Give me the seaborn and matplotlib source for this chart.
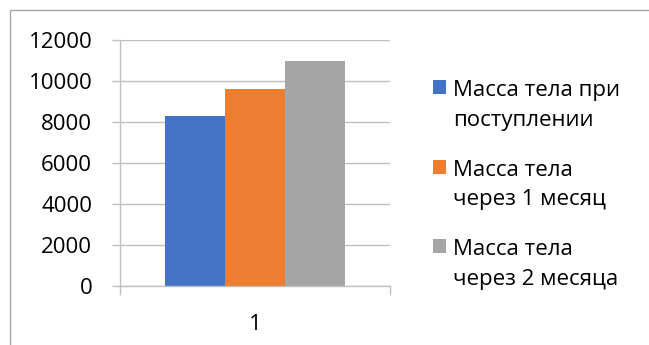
import numpy as np
import pandas as pd
import matplotlib
matplotlib.use('Agg')
import matplotlib.pyplot as plt
import seaborn as sns
from matplotlib.patches import Rectangle

# Данные графика
categories = ['1']
series = ['Масса тела при\nпоступлении', 'Масса тела\nчерез 1 месяц', 'Масса тела\nчерез 2 месяца']
values = [8300, 9600, 11000]
colors = ['#4472C4', '#ED7D31', '#A5A5A5']
yticks = [0, 2000, 4000, 6000, 8000, 10000, 12000]

df = pd.DataFrame({'cat': categories * len(series), 'series': series, 'value': values})

sns.set_theme(style='white')
plt.rcParams['font.family'] = ['Open Sans', 'DejaVu Sans']
grey = '#bfbfbf'
fs = 16

fig = plt.figure(figsize=(6.49, 3.45), dpi=100)
ax = fig.add_axes([120 / 649, 59 / 345, 270 / 649, 246 / 345])
sns.barplot(data=df, x='cat', y='value', hue='series', palette=colors,
            width=2 / 3, saturation=1, linewidth=0, ax=ax)

ax.set_xlim(-0.5, 0.5)
ax.set_ylim(0, 12000)
ax.set_yticks(yticks)
ax.set_xlabel('')
ax.set_ylabel('')
ax.grid(axis='y', color=grey, lw=1)
ax.set_axisbelow(True)
for s in ['top', 'right']:
    ax.spines[s].set_visible(False)
for s in ['left', 'bottom']:
    ax.spines[s].set_color(grey)
    ax.spines[s].set_linewidth(1)

ax.tick_params(axis='y', left=True, length=6, width=1, color=grey, pad=14,
               labelsize=fs, labelcolor='black', direction='out')
ax.set_xticks([-0.5, 0.5], minor=True)
ax.tick_params(axis='x', which='minor', bottom=True, length=6.5, width=1,
               color=grey, direction='out')
ax.tick_params(axis='x', which='major', bottom=False, length=0, pad=20,
               labelsize=fs, labelcolor='black')

# Легенда справа
handles, labels = ax.get_legend_handles_labels()
ax.get_legend().remove()
leg = fig.legend(handles, labels, loc='upper left',
                 bbox_to_anchor=(433 / 649, (345 - 80) / 345),
                 frameon=False, fontsize=fs, handlelength=0.6, handleheight=0.6,
                 handletextpad=0.3, labelspacing=1.3, borderaxespad=0,
                 borderpad=0)
for t in leg.get_texts():
    t.set_color('black')
    t.set_linespacing(1.55)
for col in leg._legend_handle_box.get_children():
    for row in col.get_children():
        row.align = 'top'

# рамка области диаграммы
fig.add_artist(Rectangle((10 / 649, -0.1), 1.2, (335 / 345) + 0.1,
                         transform=fig.transFigure, fill=False,
                         edgecolor='#a6a6a6', lw=1))

fig.savefig('out.png', dpi=100)
